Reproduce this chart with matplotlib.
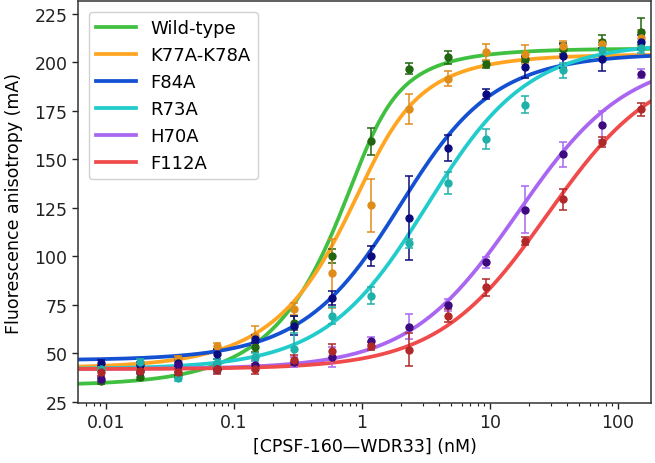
import numpy as np
import matplotlib
matplotlib.use("Agg")
import matplotlib.pyplot as plt
from matplotlib.ticker import FixedLocator, FixedFormatter, LogLocator, NullFormatter

# ---------------- data ----------------
conc_nM = [0.00916, 0.0183, 0.0366, 0.0732, 0.146, 0.293, 0.586, 1.17,
           2.34, 4.69, 9.375, 18.75, 37.5, 75.0, 150.0]

series_names = ["Wild-type", "K77A-K78A", "F84A", "R73A", "H70A", "F112A"]

wt_y   = [36.0, 37.8, 39.0, 42.0, 53.5, 65.7, 100.2, 159.2, 196.6, 202.6, 198.9, 201.4, 207.0, 210.4, 215.7]
wt_err = [1.5, 1.5, 1.5, 1.5, 2.5, 3.5, 3.5, 6.9, 2.9, 3.3, 1.7, 1.5, 3.0, 3.6, 6.9]

k77_y   = [42.5, 43.0, 47.0, 54.0, 59.2, 73.0, 91.2, 126.2, 175.7, 191.5, 205.2, 204.0, 208.1, 209.5, 212.5]
k77_err = [1.5, 1.5, 1.5, 1.5, 4.7, 3.1, 18.0, 13.4, 7.7, 4.0, 4.0, 5.0, 2.6, 2.0, 4.0]

f84_y   = [45.0, 44.0, 45.0, 49.7, 57.5, 64.3, 78.8, 100.2, 119.8, 155.8, 183.4, 197.4, 203.2, 201.4, 210.4]
f84_err = [1.5, 1.5, 1.5, 2.5, 2.0, 5.0, 3.6, 5.2, 21.5, 6.9, 2.6, 5.7, 6.0, 5.7, 3.5]

r73_y   = [42.0, 45.4, 37.4, 45.0, 48.0, 52.3, 69.5, 79.8, 106.8, 137.9, 160.5, 178.1, 195.8, 206.1, 207.5]
r73_err = [1.0, 1.5, 1.5, 2.0, 2.0, 8.0, 4.5, 4.5, 2.4, 5.8, 5.3, 4.3, 3.8, 3.0, 3.0]

h70_y   = [36.9, 41.0, 44.0, 42.0, 44.2, 45.6, 48.1, 56.6, 63.7, 75.0, 97.0, 124.1, 152.5, 167.5, 194.1]
h70_err = [1.5, 1.5, 1.5, 2.0, 2.5, 2.5, 5.0, 2.0, 6.4, 2.9, 2.8, 12.0, 6.6, 7.5, 2.4]

f112_y   = [40.3, 41.2, 40.3, 42.0, 42.0, 46.6, 51.4, 54.0, 52.0, 69.5, 84.1, 108.1, 129.3, 158.8, 175.7]
f112_err = [2.0, 1.5, 1.5, 2.5, 2.5, 2.5, 3.5, 2.0, 8.6, 3.3, 4.5, 2.0, 5.2, 2.6, 3.2]

# fitted binding-curve parameters (quadratic / ligand-depletion model)
probe_nM   = 1.0
fit_bottom = [33.5, 42.5, 46.5, 42.0, 42.0, 42.0]
fit_top    = [207.0, 204.0, 204.5, 210.0, 203.0, 201.0]
fit_kd     = [0.16, 0.3, 1.45, 2.7, 16.0, 27.5]

x_ticks = [0.01, 0.1, 1, 10, 100]
x_tick_labels = ["0.01", "0.1", "1", "10", "100"]
y_ticks = [25, 50, 75, 100, 125, 150, 175, 200, 225]

# ---------------- styles ----------------
line_colors   = ["#40c040", "#ffa522", "#1450d2", "#22cccc", "#aa66f0", "#f04a4a"]
marker_colors = ["#226611", "#e08c1a", "#0b0b80", "#20b0aa", "#3d0a80", "#b02828"]
err_colors    = ["#226611", "#e08c1a", "#0b0b80", "#20b0aa", "#aa66f0", "#b02828"]

ys   = [wt_y, k77_y, f84_y, r73_y, h70_y, f112_y]
errs = [wt_err, k77_err, f84_err, r73_err, h70_err, f112_err]


def binding(p, bottom, top, kd, lig):
    p = np.asarray(p, dtype=float)
    s = p + lig + kd
    frac = (s - np.sqrt(s * s - 4.0 * p * lig)) / (2.0 * lig)
    return bottom + (top - bottom) * frac


plt.rcParams["font.family"] = ["DejaVu Sans"]
plt.rcParams["font.size"] = 12.5

fig = plt.figure(figsize=(6.55, 4.64), dpi=100)
ax = fig.add_axes([78 / 655, 1 - 404 / 464, (651 - 78) / 655, (404 - 2) / 464])

xmin, xmax = 0.00604, 181.0
xs = np.logspace(np.log10(xmin) - 0.05, np.log10(xmax) + 0.05, 400)

for i, name in enumerate(series_names):
    ax.plot(xs, binding(xs, fit_bottom[i], fit_top[i], fit_kd[i], probe_nM),
            color=line_colors[i], lw=2.7, label=name, zorder=2)

for i, name in enumerate(series_names):
    ax.errorbar(conc_nM, ys[i], yerr=errs[i], fmt="o", ms=5.0,
                color=marker_colors[i], ecolor=err_colors[i], elinewidth=1.1,
                capsize=2.6, capthick=1.1, zorder=3)

ax.set_xscale("log")
ax.set_xlim(xmin, xmax)
ax.set_ylim(24.5, 231.5)
ax.xaxis.set_major_locator(FixedLocator(x_ticks))
ax.xaxis.set_major_formatter(FixedFormatter(x_tick_labels))
ax.xaxis.set_minor_locator(LogLocator(base=10, subs=np.arange(2, 10), numticks=20))
ax.xaxis.set_minor_formatter(NullFormatter())
ax.set_yticks(y_ticks)

ax.tick_params(which="major", length=4.0, width=1.0, labelsize=12.5, colors="#222222")
ax.tick_params(which="minor", length=2.2, width=0.8, colors="#222222")
for sp in ax.spines.values():
    sp.set_linewidth(1.1)
    sp.set_color("#333333")

ax.set_xlabel("[CPSF-160\u2014WDR33] (nM)", fontsize=12.5, labelpad=4)
ax.set_ylabel("Fluorescence anisotropy (mA)", fontsize=12.5, labelpad=8)

leg = ax.legend(loc="upper left", fontsize=13, handlelength=2.2,
                borderaxespad=0.6, framealpha=0.9)

fig.savefig("out.png", dpi=100)
